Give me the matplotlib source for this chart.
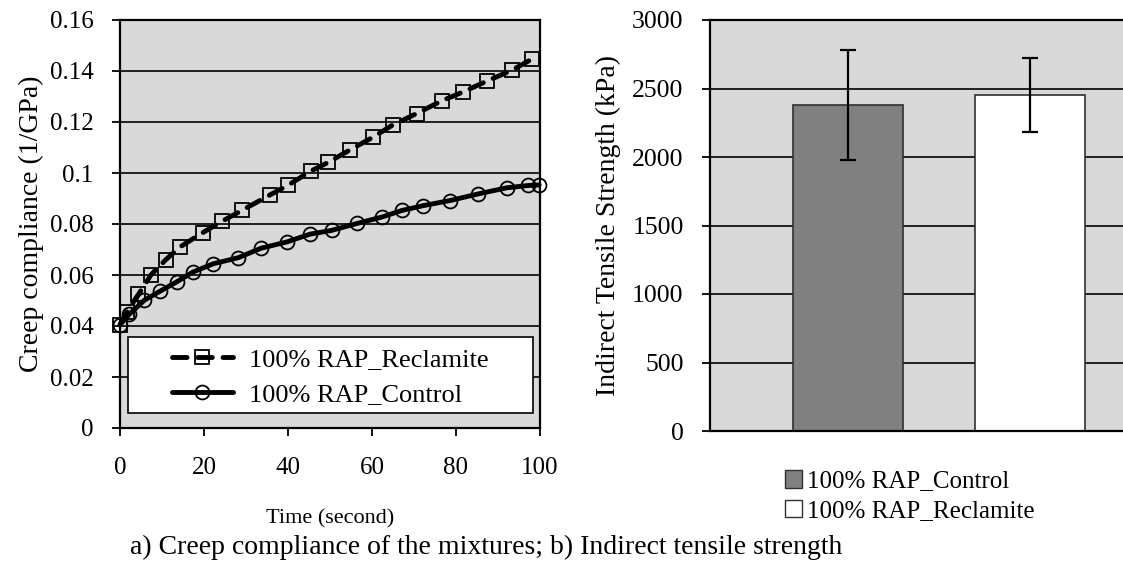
import matplotlib
matplotlib.use("Agg")
import matplotlib.pyplot as plt
from matplotlib.patches import Patch, Rectangle

plt.rcParams['font.family'] = ['Liberation Serif', 'DejaVu Serif']

# creep compliance data
t_reclamite = [0, 1.6, 4.4, 7.4, 10.9, 14.3, 19.7, 24.2, 29, 35.7, 40.1, 45.4,
               49.6, 54.8, 60.2, 64.9, 70.6, 76.6, 81.7, 87.3, 93.3, 98]
d_reclamite = [0.0405, 0.0455, 0.0524, 0.0601, 0.066, 0.0710, 0.0766, 0.081,
               0.0853, 0.0914, 0.0953, 0.1007, 0.1042, 0.1091, 0.1140, 0.1188,
               0.1233, 0.1283, 0.1318, 0.136, 0.1403, 0.1446]
t_control = [0, 2.2, 5.8, 9.5, 13.5, 17.3, 22.2, 28.2, 33.6, 39.8, 45.2, 50.4,
             56.4, 62.3, 67.1, 72.2, 78.6, 85.3, 92.1, 97.2, 99.8]
d_control = [0.0405, 0.0446, 0.0501, 0.0536, 0.0573, 0.0611, 0.0644, 0.0668,
             0.0705, 0.0730, 0.0760, 0.0775, 0.0802, 0.0827, 0.0853, 0.0872,
             0.0892, 0.0918, 0.0942, 0.0951, 0.0953]

# indirect tensile strength
its_labels = ['100% RAP_Control', '100% RAP_Reclamite']
its_mean = [2380, 2455]
its_err = [400, 270]
its_colors = ['#808080', 'white']

W, H = 1123, 569
fig = plt.figure(figsize=(W / 100, H / 100), dpi=100)
bg = '#d9d9d9'

# a) creep compliance
ax1 = fig.add_axes([120 / W, 1 - 428 / H, 420 / W, 408 / H])
ax1.set_facecolor(bg)
ax1.plot(t_reclamite, d_reclamite, color='black', lw=3.5, dashes=(3, 2.2),
         dash_capstyle='round', marker='s', ms=10, mfc='none', mec='black',
         mew=1.3, label='100% RAP_Reclamite', clip_on=False, zorder=3)
ax1.plot(t_control, d_control, color='black', lw=3.5, solid_capstyle='round',
         marker='o', ms=10, mfc='none', mec='black', mew=1.3,
         label='100% RAP_Control', clip_on=False, zorder=3)
ax1.set_xlim(0, 100)
ax1.set_ylim(0, 0.16)
ax1.set_xticks([0, 20, 40, 60, 80, 100])
ax1.set_yticks([0, 0.02, 0.04, 0.06, 0.08, 0.1, 0.12, 0.14, 0.16])
ax1.set_yticklabels(['0', '0.02', '0.04', '0.06', '0.08', '0.1', '0.12', '0.14', '0.16'])
ax1.yaxis.grid(True, color='black', lw=1.2)
ax1.set_axisbelow(True)
ax1.tick_params(axis='x', labelsize=18, length=6, width=1.3, direction='out', pad=15)
ax1.tick_params(axis='y', labelsize=18, length=6, width=1.3, direction='out', pad=13)
for s in ax1.spines.values():
    s.set_linewidth(1.6)
ax1.set_ylabel('Creep compliance (1/GPa)', fontsize=20, labelpad=4)
ax1.set_xlabel('Time (second)', fontsize=16, labelpad=22)

# legend box with the entries centred inside it
ax1.add_patch(Rectangle((0.019, 0.037), 0.964, 0.185, transform=ax1.transAxes,
                        facecolor='white', edgecolor='black', lw=1.2, zorder=4))
leg = ax1.legend(loc='center left', bbox_to_anchor=(0.124, 0.125), fontsize=19,
                 frameon=False, handlelength=2.3, handletextpad=0.6,
                 labelspacing=0.45, borderpad=0, borderaxespad=0)
leg.set_zorder(5)

# b) indirect tensile strength
ax2 = fig.add_axes([710 / W, 1 - 431 / H, 413 / W, 411 / H])
ax2.set_facecolor(bg)
pos = [0, 1]
ax2.bar(pos, its_mean, width=0.6, color=its_colors, edgecolor='#303030',
        linewidth=1.2, yerr=its_err, capsize=6,
        error_kw=dict(ecolor='black', elinewidth=1.6, capthick=1.6), zorder=2)
ax2.set_xlim(-0.758, 1.511)
ax2.set_ylim(0, 3000)
ax2.set_yticks(range(0, 3001, 500))
ax2.set_xticks([])
ax2.yaxis.grid(True, color='black', lw=1.2)
ax2.set_axisbelow(True)
ax2.tick_params(labelsize=18.5, length=6, width=1.3, direction='out', pad=13)
ax2.spines['right'].set_visible(False)
for s in ['left', 'top', 'bottom']:
    ax2.spines[s].set_linewidth(1.6)
ax2.set_ylabel('Indirect Tensile Strength (kPa)', fontsize=20, labelpad=8)
handles = [Patch(facecolor=c, edgecolor='#303030', lw=1) for c in its_colors]
fig.legend(handles, its_labels, loc='center', bbox_to_anchor=(910 / W, 1 - 496 / H),
           fontsize=18, frameon=False, handlelength=0.7, handleheight=0.7,
           handletextpad=0.2, labelspacing=0.28)

fig.text(130 / W, 1 - 547 / H,
         'a) Creep compliance of the mixtures; b) Indirect tensile strength',
         fontsize=20, ha='left', va='center')

fig.savefig('out.png', dpi=100)
